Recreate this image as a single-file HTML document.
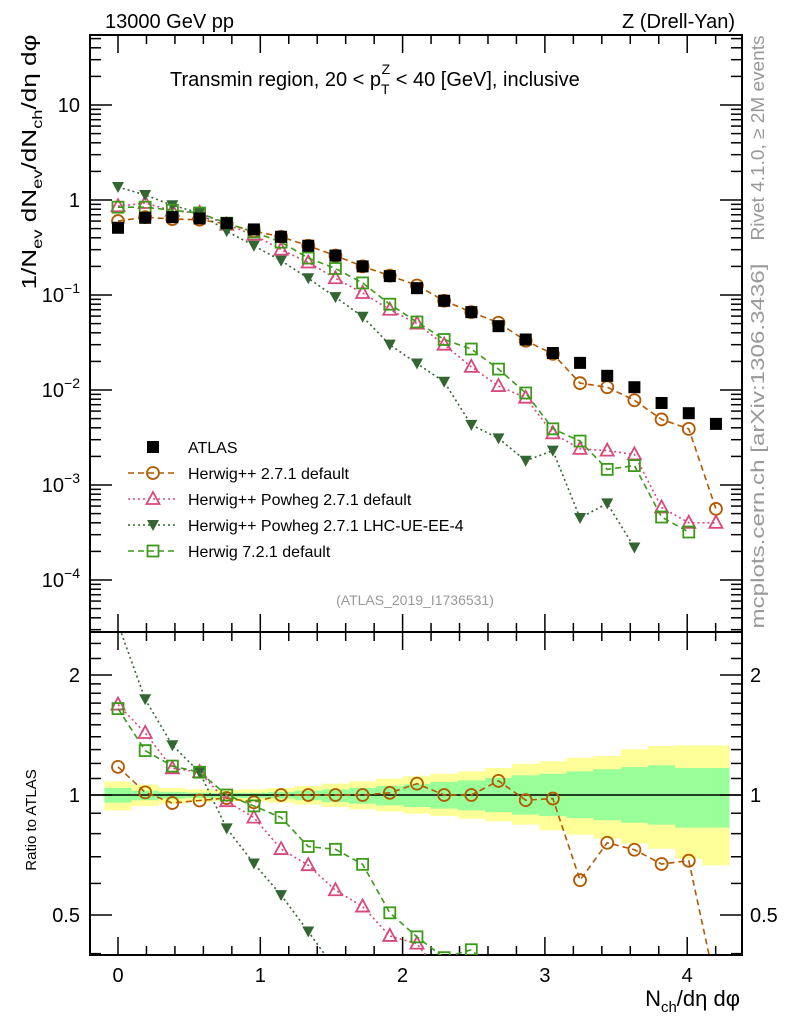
<!DOCTYPE html>
<html><head><meta charset="utf-8"><style>
html,body{margin:0;padding:0;background:#fff;width:786px;height:1024px;overflow:hidden;}
svg{display:block;font-family:"Liberation Sans",sans-serif;}
</style></head><body>
<svg id="c" width="786" height="1024" viewBox="0 0 786 1024" xmlns="http://www.w3.org/2000/svg">
<text x="105" y="28" font-size="20">13000 GeV pp</text>
<text x="735" y="28" font-size="20" text-anchor="end">Z (Drell-Yan)</text>
<text x="170" y="86" font-size="20">Transmin region, 20 &lt; p<tspan dy="8" font-size="14">T</tspan><tspan dx="-8" dy="-20" font-size="14">Z</tspan><tspan dy="12"> &lt; 40 [GeV], inclusive</tspan></text>
<text transform="translate(36,162) rotate(-90)" font-size="20" text-anchor="middle" textLength="255" lengthAdjust="spacingAndGlyphs">1/N<tspan dy="6" font-size="14">ev</tspan><tspan dy="-6"> dN</tspan><tspan dy="6" font-size="14">ev</tspan><tspan dy="-6">/dN</tspan><tspan dy="6" font-size="14">ch</tspan><tspan dy="-6">/dη dφ</tspan></text>
<text transform="translate(36,820) rotate(-90)" font-size="15" text-anchor="middle">Ratio to ATLAS</text>
<text transform="translate(764,138) rotate(-90)" font-size="18" fill="#999" text-anchor="middle" textLength="205" lengthAdjust="spacingAndGlyphs">Rivet 4.1.0, ≥ 2M events</text>
<text transform="translate(764,446) rotate(-90)" font-size="18" fill="#999" text-anchor="middle" textLength="365" lengthAdjust="spacingAndGlyphs">mcplots.cern.ch [arXiv:1306.3436]</text>
<text x="415" y="605" font-size="14" fill="#999" text-anchor="middle">(ATLAS_2019_I1736531)</text>
<text x="740" y="1006" font-size="22" text-anchor="end">N<tspan dy="6" font-size="15">ch</tspan><tspan dy="-6">/dη dφ</tspan></text>
<g id="g"></g>
</svg>
<script>
const xs = [0,0.191,0.382,0.573,0.764,0.955,1.146,1.337,1.528,1.719,1.91,2.101,2.292,2.483,2.674,2.865,3.056,3.247,3.438,3.629,3.82,4.011,4.202];
const atlas = [0.51,0.65,0.66,0.64,0.57,0.49,0.41,0.33,0.26,0.20,0.158,0.118,0.087,0.066,0.047,0.034,0.0245,0.0193,0.0141,0.0107,0.0073,0.0057,0.0044];
const hwpp = [0.60,0.66,0.63,0.62,0.56,0.47,0.41,0.33,0.26,0.20,0.160,0.126,0.087,0.066,0.051,0.033,0.024,0.0118,0.0107,0.0078,0.0049,0.0039,0.00056];
const powheg = [0.86,0.93,0.77,0.73,0.55,0.43,0.30,0.22,0.15,0.105,0.070,0.050,0.030,0.0175,0.011,0.0083,0.0035,0.0024,0.0023,0.0021,0.00058,0.00040,0.00040];
const ueee4 = [1.37,1.13,0.88,0.73,0.47,0.33,0.23,0.15,0.095,0.059,0.030,0.019,0.0122,0.0043,0.0031,0.0018,0.0023,0.00045,0.00064,0.00022];
const hw7 = [0.84,0.84,0.78,0.73,0.57,0.46,0.36,0.245,0.19,0.134,0.080,0.052,0.034,0.027,0.0166,0.0093,0.0039,0.0029,0.00146,0.0016,0.00046,0.00032];
const yelUp = [1.082,1.062,1.041,1.033,1.029,1.033,1.041,1.053,1.068,1.082,1.099,1.114,1.131,1.146,1.169,1.198,1.215,1.240,1.253,1.302,1.327,1.332,1.332];
const yelDn = [0.915,0.938,0.951,0.960,0.966,0.964,0.957,0.946,0.933,0.921,0.910,0.898,0.886,0.872,0.859,0.843,0.816,0.795,0.777,0.755,0.733,0.692,0.666];
const grnUp = [1.041,1.025,1.018,1.014,1.012,1.012,1.018,1.025,1.033,1.041,1.053,1.064,1.078,1.088,1.103,1.120,1.131,1.146,1.160,1.175,1.187,1.169,1.169];
const grnDn = [0.957,0.970,0.979,0.983,0.985,0.983,0.979,0.970,0.960,0.951,0.942,0.933,0.924,0.915,0.906,0.893,0.886,0.875,0.864,0.852,0.843,0.828,0.828];
const xTicks = [0,1,2,3,4];
const yMainTicks = [10,1,0.1,0.01,0.001,0.0001];
const yMainLabels = ["10","1","10^-1","10^-2","10^-3","10^-4"];
const yRatioTicks = [0.5,1,2];
const yRatioLabels = ["0.5","1","2"];

const NS="http://www.w3.org/2000/svg";
const G=document.getElementById('g');
const L=90,R=742,MT=35,MB=632,RT=632,RB=955;
const X=v=>118+v*142.3;
const Y=v=>200-Math.log10(v)*95;
const YR=v=>795-Math.log2(Math.max(v,0.33))*120;
function mk(t,a,p){const e=document.createElementNS(NS,t);for(const k in a)e.setAttribute(k,a[k]);(p||G).appendChild(e);return e;}
const half=13.6;
const defs=mk('defs',{});
const cm=mk('clipPath',{id:'cm'},defs);mk('rect',{x:L,y:MT,width:R-L,height:MB-MT},cm);
const cr=mk('clipPath',{id:'cr'},defs);mk('rect',{x:L,y:RT,width:R-L,height:RB-RT},cr);
const bands=mk('g',{'clip-path':'url(#cr)'});


function band(up,dn,col,name){
  let top='',bot='';
  xs.forEach((x,i)=>{top+=`${i?'L':'M'}${X(x)-half},${YR(up[i])}L${X(x)+half},${YR(up[i])}`;});
  for(let i=xs.length-1;i>=0;i--){bot+=`L${X(xs[i])+half},${YR(dn[i])}L${X(xs[i])-half},${YR(dn[i])}`;}
  const p=mk('path',{d:top+bot+'Z',fill:col},bands);
  
  
}
band(yelUp,yelDn,'#ffff99','band-total');
band(grnUp,grnDn,'#99ff99','band-stat');
mk('line',{x1:L,x2:R,y1:YR(1),y2:YR(1),stroke:'#000','stroke-width':1.5});
mk('rect',{x:L,y:MT,width:R-L,height:MB-MT,fill:'none',stroke:'#000','stroke-width':2});
mk('rect',{x:L,y:RT,width:R-L,height:RB-RT,fill:'none',stroke:'#000','stroke-width':2});
for(let v=-0.2;v<=4.45;v+=0.2){const x=X(v);if(x<L||x>R)continue;const maj=Math.abs(v-Math.round(v))<0.01;const len=maj?18:9;
  [[MT,1],[MB,-1],[RT,1],[RB,-1]].forEach(([y,d])=>mk('line',{x1:x,x2:x,y1:y,y2:y+d*len,stroke:'#000','stroke-width':1.5}));}
xTicks.forEach(v=>{const t=mk('text',{x:X(v),y:982,'font-size':20,'text-anchor':'middle'});t.textContent=v;
  
  });
for(let d=-5;d<=1;d++)for(let m=1;m<=9;m++){const y=Y(m*Math.pow(10,d));if(y<MT||y>MB)continue;const len=m==1?22:11;
  mk('line',{x1:L,x2:L+len,y1:y,y2:y,stroke:'#000','stroke-width':1.5});mk('line',{x1:R,x2:R-len,y1:y,y2:y,stroke:'#000','stroke-width':1.5});}
yMainTicks.forEach((v,i)=>{const s=yMainLabels[i];const t=mk('text',{x:80,y:Y(v)+7,'font-size':20,'text-anchor':'end'});
  if(s.includes('^')){const [b,e]=s.split('^');t.textContent=b;const ts=mk('tspan',{dy:-9,'font-size':14},t);ts.textContent=e.replace('-','−');}
  else t.textContent=s;
  
  });
[0.4,0.5,0.6,0.7,0.8,0.9,1,1.1,1.2,1.3,1.4,1.5,1.6,1.7,1.8,1.9,2,2.2,2.4].forEach(v=>{const y=YR(v);if(y<RT||y>RB)return;const len=[0.5,1,2].includes(v)?22:11;
  mk('line',{x1:L,x2:L+len,y1:y,y2:y,stroke:'#000','stroke-width':1.5});mk('line',{x1:R,x2:R-len,y1:y,y2:y,stroke:'#000','stroke-width':1.5});});
yRatioTicks.forEach((v,i)=>{[[80,'end'],[750,'start']].forEach(([x,a])=>{const t=mk('text',{x:x,y:YR(v)+7,'font-size':20,'text-anchor':a});t.textContent=yRatioLabels[i];
  
  });});
function marker(g,type,x,y,col){
  if(type==='sq')mk('rect',{x:x-6,y:y-6,width:12,height:12,fill:'#000'},g);
  else if(type==='osq')mk('rect',{x:x-5.5,y:y-5.5,width:11,height:11,fill:'none',stroke:col,'stroke-width':1.8},g);
  else if(type==='circ')mk('circle',{cx:x,cy:y,r:6,fill:'none',stroke:col,'stroke-width':1.8},g);
  else if(type==='tri')mk('path',{d:`M${x},${y-7}L${x+6.5},${y+5}L${x-6.5},${y+5}Z`,fill:'none',stroke:col,'stroke-width':1.8},g);
  else if(type==='dtri')mk('path',{d:`M${x},${y+6}L${x+6},${y-5}L${x-6},${y-5}Z`,fill:col},g);
}
const series=[
  {name:'herwigpp-271',vals:hwpp,col:'#b35900',type:'circ',dash:'6,4'},
  {name:'powheg-271',vals:powheg,col:'#d9487a',type:'tri',dash:'2,3'},
  {name:'powheg-ueee4',vals:ueee4,col:'#336633',type:'dtri',dash:'2,3'},
  {name:'herwig-721',vals:hw7,col:'#3c9a1a',type:'osq',dash:'6,4'}];
const gm=mk('g',{'clip-path':'url(#cm)'});
const gr=mk('g',{'clip-path':'url(#cr)'});
series.forEach(s=>{
  const g1=mk('g',{},gm);
  
  
  mk('path',{d:s.vals.map((v,i)=>`${i?'L':'M'}${X(xs[i])},${Y(v)}`).join(''),fill:'none',stroke:s.col,'stroke-width':1.6,'stroke-dasharray':s.dash},g1);
  s.vals.forEach((v,i)=>marker(g1,s.type,X(xs[i]),Y(v),s.col));
  const g2=mk('g',{},gr);
  
  
  const rv=s.vals.map((v,i)=>v/atlas[i]);
  mk('path',{d:rv.map((v,i)=>`${i?'L':'M'}${X(xs[i])},${YR(v)}`).join(''),fill:'none',stroke:s.col,'stroke-width':1.6,'stroke-dasharray':s.dash},g2);
  rv.forEach((v,i)=>{if(v>0.36)marker(g2,s.type,X(xs[i]),YR(v),s.col);});
});
const ga=mk('g',{},gm);


atlas.forEach((v,i)=>marker(ga,'sq',X(xs[i]),Y(v)));
const lg=mk('g',{});


const leg=[['ATLAS','sq','#000',null],['Herwig++ 2.7.1 default','circ','#b35900','6,4'],['Herwig++ Powheg 2.7.1 default','tri','#d9487a','2,3'],['Herwig++ Powheg 2.7.1 LHC-UE-EE-4','dtri','#336633','2,3'],['Herwig 7.2.1 default','osq','#3c9a1a','6,4']];
leg.forEach((e,i)=>{const y=447+i*26;const eg=mk('g',{},lg);
  
  
  if(e[3])mk('line',{x1:128,x2:178,y1:y,y2:y,stroke:e[2],'stroke-width':1.6,'stroke-dasharray':e[3]},eg);
  marker(eg,e[1],153,y,e[2]);
  const t=mk('text',{x:188,y:y+6,'font-size':16},eg);t.textContent=e[0];});
</script>
</body></html>
